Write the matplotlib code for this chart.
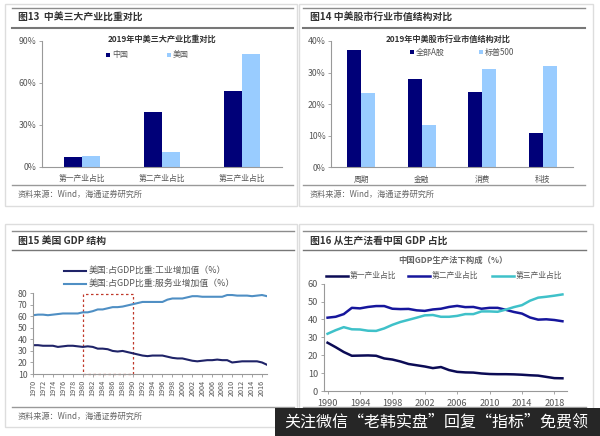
import matplotlib
matplotlib.use("Agg")
import matplotlib.pyplot as plt
from matplotlib.patches import Rectangle
from matplotlib.lines import Line2D
import numpy as np

plt.rcParams['font.family'] = ['Noto Sans CJK SC', 'DejaVu Sans']

W, H = 600, 436
NAVY = '#000078'
SKY = '#99CCFF'
TXT = '#555555'

sector_labels = ['第一产业占比', '第二产业占比', '第三产业占比']
china_share = [7, 39, 54]
us_share = [8, 11, 81]

market_labels = ['周期', '金融', '消费', '科技']
a_share = [37, 28, 24, 11]
sp500 = [23.5, 13.5, 31, 32]

us_years = list(range(1970, 2018))
us_industry = [35, 35, 34.5, 34.5, 34.5, 33.5, 34, 34.5, 34.5, 34,
               33.5, 34, 33.5, 32, 32, 31.5, 30, 29.5, 30, 29,
               28, 27, 26, 25.5, 26, 26, 26, 25, 24, 23.5,
               23.5, 22.5, 21.5, 21, 21.5, 22, 22, 22.5, 22, 22,
               20, 20.5, 21, 21, 21, 21, 20, 18]
us_service = [61, 61.5, 61.5, 61, 61.5, 62, 62.5, 62.5, 62.5, 62.5,
              63.5, 63.5, 64.5, 66, 66, 67, 68, 68, 68.5, 69.5,
              70.5, 71.5, 72.5, 72.5, 72.5, 72.5, 72.5, 74.5, 75.5, 75.5,
              75.5, 76.5, 77.5, 77.5, 77, 77, 77, 77, 77, 78.5,
              78.5, 78, 78, 78, 77.5, 78, 78.5, 77.5]

cn_years = list(range(1990, 2020))
cn_primary = [27, 24.5, 21.8, 19.7, 19.8, 19.9, 19.7, 18.2, 17.6, 16.5,
              15.1, 14.4, 13.7, 12.8, 13.4, 11.7, 10.7, 10.4, 10.3, 9.8,
              9.5, 9.4, 9.4, 9.3, 9.1, 8.8, 8.6, 7.9, 7.2, 7.1]
cn_secondary = [41, 41.5, 43, 46.5, 46.2, 47, 47.5, 47.5, 46, 45.8,
                45.9, 45.1, 44.8, 45.6, 46, 47, 47.6, 46.9, 47, 46,
                46.5, 46.5, 45.4, 44.2, 43.3, 41.1, 39.9, 40.1, 39.7, 39]
cn_tertiary = [32, 34, 35.7, 34.5, 34.4, 33.7, 33.6, 35, 37, 38.6,
               39.8, 41, 42.3, 42.5, 41.5, 41.5, 42, 43, 43, 44.5,
               44.5, 44.3, 45.5, 46.9, 48, 50.5, 52.2, 52.7, 53.3, 54]

fig = plt.figure(figsize=(W / 100, H / 100), dpi=100, facecolor='white')
bg = fig.add_axes([0, 0, 1, 1], zorder=0)
bg.set_xlim(0, W); bg.set_ylim(H, 0); bg.axis('off')


def make_ax(x0, x1, ytop, ybot):
    ax = fig.add_axes([x0 / W, 1 - ybot / H, (x1 - x0) / W, (ybot - ytop) / H], zorder=2)
    ax.patch.set_alpha(0)
    for s in ('top', 'right'):
        ax.spines[s].set_visible(False)
    for s in ('left', 'bottom'):
        ax.spines[s].set_color('#999999')
        ax.spines[s].set_linewidth(0.8)
    ax.tick_params(colors=TXT, labelsize=6.3, length=2, width=0.6, color='#999999', pad=2)
    return ax


def frame(x0, y0, x1, y1, lx0, lx1, top, head, foot, title, tx, source=True, top_lw=1.0, head_lw=1.5):
    bg.add_patch(Rectangle((x0, y0), x1 - x0, y1 - y0, fc='white', ec='#dddddd', lw=1.0))
    bg.plot([lx0, lx1], [top, top], color='#8c8c8c', lw=top_lw)
    bg.plot([lx0, lx1], [head, head], color='#777777', lw=head_lw)
    bg.plot([lx0, lx1], [foot, foot], color='#999999', lw=1.0)
    bg.text(tx, (top + head) / 2, title, fontsize=7.1, fontweight='bold', color='#333333',
            va='center', ha='left')
    if source:
        bg.text(tx, foot + 9, '资料来源：Wind，海通证券研究所', fontsize=5.9, color='#666666',
                va='center', ha='left')


frame(5, 4, 297, 206, 12, 293, 8, 28, 185, '图13  中美三大产业比重对比', 18)
frame(299, 4, 593, 206, 303, 585, 8, 28, 185, '图14 中美股市行业市值结构对比', 310)
frame(5, 224, 297, 427, 12, 294, 231, 250, 407, '图15 美国 GDP 结构', 18, head_lw=1.0)
# The source line of this panel is hidden by the dark caption bar in the reference.
frame(299, 224, 593, 427, 303, 586, 231, 250, 407, '图16 从生产法看中国 GDP 占比', 310,
      source=False, head_lw=1.0)


def bars(ax, labels, a, b, width):
    x = np.arange(len(labels))
    ax.bar(x - width / 2, a, width, color=NAVY)
    ax.bar(x + width / 2, b, width, color=SKY)
    ax.set_xticks(x)
    ax.set_xticklabels(labels, fontsize=5.6)
    ax.set_xlim(-0.5, len(labels) - 0.5)
    ax.tick_params(axis='x', length=0, pad=6)


def square_key(x, y, color, label):
    bg.add_patch(Rectangle((x - 2, y - 2), 4, 4, fc=color, ec='none', zorder=5))
    bg.text(x + 4, y, label, fontsize=5.8, color=TXT, va='center', ha='left', zorder=5)


ax1 = make_ax(42, 282, 41, 167)
bars(ax1, sector_labels, china_share, us_share, 0.23)
ax1.set_ylim(0, 90)
ax1.set_yticks([0, 30, 60, 90])
ax1.set_yticklabels(['0%', '30%', '60%', '90%'])
bg.text(162, 39.5, '2019年中美三大产业比重对比', fontsize=5.9, fontweight='bold', color='#333333',
        ha='center', va='center', zorder=5)
square_key(108, 55, NAVY, '中国')
square_key(169, 55, SKY, '美国')

ax2 = make_ax(331, 573, 41, 167.5)
bars(ax2, market_labels, a_share, sp500, 0.23)
ax2.set_ylim(0, 40)
ax2.set_yticks([0, 10, 20, 30, 40])
ax2.set_yticklabels(['0%', '10%', '20%', '30%', '40%'])
bg.text(448, 39, '2019年中美股市行业市值结构对比', fontsize=5.9, fontweight='bold', color='#333333',
        ha='center', va='center', zorder=5)
square_key(412, 52.5, NAVY, '全部A股')
square_key(481, 52.5, SKY, '标普500')

ax3 = make_ax(33, 267, 293.3, 374)
IND = '#1f2368'
SRV = '#4f8fc4'
ax3.plot(us_years, us_industry, color=IND, lw=1.5)
ax3.plot(us_years, us_service, color=SRV, lw=1.5)
ax3.set_xlim(1970, 2017)
ax3.set_ylim(10, 80)
ax3.set_yticks(range(10, 81, 10))
ax3.set_xticks(us_years[::2])
ax3.set_xticklabels(us_years[::2], rotation=90, fontsize=5.2)
ax3.add_patch(Rectangle((1980, 10), 10, 69.5, fc='none', ec='#c0392b', lw=0.9, ls=(0, (2, 2)), clip_on=False))
for yy, c, t in [(270.5, IND, '美国:占GDP比重:工业增加值（%）'),
                 (284, SRV, '美国:占GDP比重:服务业增加值（%）')]:
    bg.add_line(Line2D([64, 86], [yy, yy], color=c, lw=1.5, zorder=5))
    bg.text(89, yy - 0.5, t, fontsize=6.4, color=TXT, va='center', ha='left', zorder=5)

ax4 = make_ax(323.5, 566.5, 283.7, 391)
C1 = '#0b0b55'
C2 = '#16169c'
C3 = '#3fc1c9'
ax4.plot(cn_years, cn_primary, color=C1, lw=1.8)
ax4.plot(cn_years, cn_secondary, color=C2, lw=1.8)
ax4.plot(cn_years, cn_tertiary, color=C3, lw=1.8)
ax4.set_xlim(1989.5, 2019.5)
ax4.set_ylim(0, 60)
ax4.set_yticks(range(0, 61, 10))
ax4.set_xticks(cn_years[::4])
ax4.tick_params(labelsize=6.6)
ax4.tick_params(axis='x', pad=4)
bg.text(453, 260.5, '中国GDP生产法下构成（%）', fontsize=6.0, fontweight='bold', color='#666666',
        ha='center', va='center', zorder=5)
for x0, c, t in [(326, C1, '第一产业占比'), (408, C2, '第二产业占比'), (492, C3, '第三产业占比')]:
    bg.add_line(Line2D([x0, x0 + 22], [275.5, 275.5], color=c, lw=1.8, zorder=5))
    bg.text(x0 + 24, 275.5, t, fontsize=5.6, color=TXT, va='center', ha='left', zorder=5)

wm = fig.add_axes([0, 0, 1, 1], zorder=5)
wm.set_xlim(0, W); wm.set_ylim(H, 0); wm.axis('off')
wm.add_patch(Rectangle((275, 408), 325, 28, fc='#262626', ec='none'))
wm.text(284, 422, '关注微信“老韩实盘”回复“指标”免费领', fontsize=11.5, color='white', va='center', ha='left')

fig.savefig('out.png', dpi=100)
